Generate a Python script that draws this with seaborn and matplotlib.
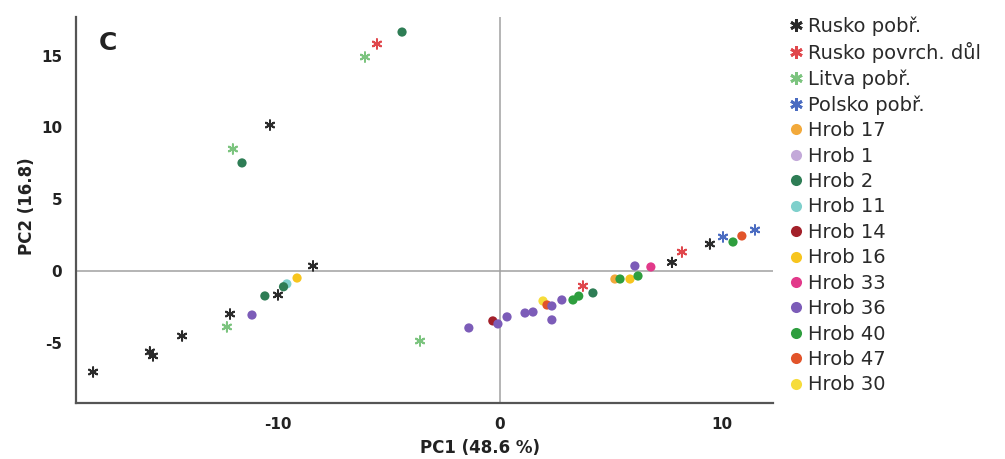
import matplotlib
matplotlib.use("Agg")
import matplotlib.pyplot as plt
from matplotlib.lines import Line2D
import seaborn as sns
import pandas as pd

# Legend order and colours of all groups
group_names = [
    "Rusko pobř.", "Rusko povrch. důl", "Litva pobř.", "Polsko pobř.",
    "Hrob 17", "Hrob 1", "Hrob 2", "Hrob 11", "Hrob 14", "Hrob 16",
    "Hrob 33", "Hrob 36", "Hrob 40", "Hrob 47", "Hrob 30",
]
group_colors = [
    "#2b2b2b", "#e0474c", "#7cc47f", "#4b6cc1",
    "#f2a93b", "#c3a9d9", "#2e7d55", "#7fd0cc", "#a3202a", "#f7c51e",
    "#e2398a", "#7c5cb8", "#2e9e3e", "#e2542a", "#f6dc3b",
]
reference_groups = group_names[:4]

# Reference (coastal / mine) samples, drawn as asterisks
ref_group = [
    "Rusko povrch. důl", "Litva pobř.", "Rusko pobř.", "Litva pobř.",
    "Rusko pobř.", "Rusko pobř.", "Rusko pobř.", "Litva pobř.",
    "Rusko pobř.", "Rusko pobř.", "Rusko pobř.", "Rusko pobř.",
    "Litva pobř.", "Rusko povrch. důl", "Rusko pobř.", "Rusko povrch. důl",
    "Rusko pobř.", "Polsko pobř.", "Polsko pobř.",
]
ref_pc1 = [
    -5.54, -6.08, -10.36, -12.03,
    -8.42, -10.0, -12.16, -12.3,
    -14.32, -15.77, -15.63, -18.33,
    -3.6, 3.74, 7.75, 8.2,
    9.46, 10.05, 11.49,
]
ref_pc2 = [
    15.82, 14.91, 10.17, 8.5,
    0.35, -1.67, -3.0, -3.9,
    -4.53, -5.64, -5.92, -7.04,
    -4.88, -1.05, 0.6, 1.32,
    1.88, 2.37, 2.86,
]

# Grave samples, drawn as dots
grave_group = [
    "Hrob 2", "Hrob 2",
    "Hrob 16", "Hrob 11", "Hrob 2", "Hrob 2", "Hrob 36",
    "Hrob 36", "Hrob 14", "Hrob 36", "Hrob 36", "Hrob 36", "Hrob 36",
    "Hrob 30", "Hrob 47", "Hrob 36", "Hrob 36", "Hrob 36", "Hrob 40",
    "Hrob 40", "Hrob 2", "Hrob 17", "Hrob 40", "Hrob 16", "Hrob 40",
    "Hrob 36", "Hrob 33", "Hrob 40", "Hrob 47",
]
grave_pc1 = [
    -4.41, -11.62,
    -9.14, -9.6, -9.75, -10.59, -11.17,
    -1.4, -0.32, -0.09, 0.32, 1.13, 1.49,
    1.94, 2.12, 2.34, 2.34, 2.79, 3.29,
    3.55, 4.19, 5.18, 5.41, 5.86, 6.22,
    6.08, 6.8, 10.5, 10.9,
]
grave_pc2 = [
    16.65, 7.53,
    -0.49, -0.9, -1.1, -1.74, -3.07,
    -3.97, -3.48, -3.69, -3.2, -2.93, -2.86,
    -2.09, -2.37, -2.44, -3.41, -2.02, -2.02,
    -1.75, -1.53, -0.56, -0.56, -0.56, -0.35,
    0.35, 0.28, 2.02, 2.44,
]

palette = dict(zip(group_names, group_colors))
ref_df = pd.DataFrame({"PC1": ref_pc1, "PC2": ref_pc2, "group": ref_group})
grave_df = pd.DataFrame({"PC1": grave_pc1, "PC2": grave_pc2, "group": grave_group})

sns.set_style("white")
plt.rcParams["font.family"] = ["DejaVu Sans"]
plt.rcParams["axes.unicode_minus"] = False

fig = plt.figure(figsize=(10.05, 4.59), dpi=100)
ax = fig.add_axes([0.0756, 0.122, 0.6935, 0.841])

ax.axhline(0, color="#a0a0a0", lw=1.1, zorder=1)
ax.axvline(0, color="#a0a0a0", lw=1.1, zorder=1)

asterisk = (6, 2, 0)
sns.scatterplot(data=ref_df, x="PC1", y="PC2", hue="group", palette=palette,
                marker=asterisk, s=45, linewidth=1.4, legend=False, ax=ax, zorder=3)
sns.scatterplot(data=grave_df, x="PC1", y="PC2", hue="group", palette=palette,
                marker="o", s=44, linewidth=0, legend=False, ax=ax, zorder=3)

ax.set_xlim(-19.1, 12.3)
ax.set_ylim(-9.2, 17.7)

xt = [-15, -10, -5, 0, 5, 10]
ax.set_xticks(xt)
ax.set_xticklabels(["" if v % 10 else str(v) for v in xt])
ax.set_yticks([-5, 0, 5, 10, 15])
ax.tick_params(axis="both", length=2, width=1, color="#666666",
               labelsize=11, labelcolor="#222222")
ax.tick_params(axis="x", pad=8)
ax.tick_params(axis="y", pad=8)
for lab in ax.get_xticklabels() + ax.get_yticklabels():
    lab.set_fontweight("bold")

for side in ("top", "right"):
    ax.spines[side].set_visible(False)
for side in ("left", "bottom"):
    ax.spines[side].set_color("#555555")
    ax.spines[side].set_linewidth(1.6)

ax.set_xlabel("PC1 (48.6 %)", fontsize=12, fontweight="bold", color="#222222")
ax.set_ylabel("PC2 (16.8)", fontsize=12, fontweight="bold", color="#222222")
ax.xaxis.set_label_coords(0.58, -0.093)
ax.yaxis.set_label_coords(-0.058, 0.51)

ax.text(0.046, 0.933, "C", transform=ax.transAxes, fontsize=18,
        fontweight="bold", ha="center", va="center", color="#222222")

handles = []
for name, col in zip(group_names, group_colors):
    if name in reference_groups:
        handles.append(Line2D([], [], linestyle="none", marker=asterisk,
                              markersize=9, markeredgewidth=2, color=col))
    else:
        handles.append(Line2D([], [], linestyle="none", marker="o",
                              markersize=8, markeredgewidth=0, color=col))

fig.legend(handles, group_names, loc="upper left",
           bbox_to_anchor=(0.785, 0.965), frameon=False,
           fontsize=14, handlelength=0.7, handletextpad=0.3,
           labelspacing=0.33, borderaxespad=0, borderpad=0,
           labelcolor="#2a2a2a")

fig.savefig("out.png", dpi=100, facecolor="white")
